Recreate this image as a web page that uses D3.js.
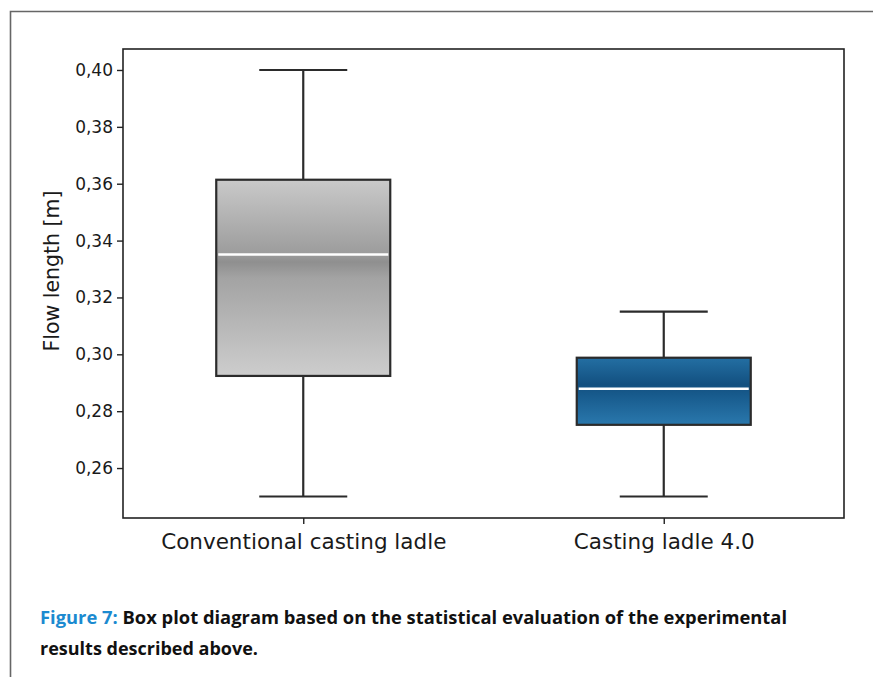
<!DOCTYPE html>
<html>
<head>
<meta charset="utf-8">
<script src="https://cdn.jsdelivr.net/npm/d3@7"></script>
<style>
body { margin: 0; background: #fff; }
</style>
</head>
<body>
<svg id="chart" width="873" height="677"></svg>
<script>
// box plot values
var groups = ["Conventional casting ladle", "Casting ladle 4.0"];
var whiskerLow = [0.25, 0.25];
var q1 = [0.2924, 0.2752];
var median = [0.3351, 0.2879];
var q3 = [0.3614, 0.2988];
var whiskerHigh = [0.40, 0.315];
var yTicks = [0.26, 0.28, 0.30, 0.32, 0.34, 0.36, 0.38, 0.40];

var plotFont = "'DejaVu Sans', Verdana, sans-serif";
var capFont = "'Open Sans', 'Noto Sans', sans-serif";

var svg = d3.select("#chart");

var margin = {left: 123, top: 49, right: 844, bottom: 518};

// outer frame of the figure page
svg.append("path")
  .attr("d", "M10.5,677 V11.5 H873")
  .attr("fill", "none")
  .attr("stroke", "#666")
  .attr("stroke-width", 1.6);

var y = d3.scaleLinear()
  .domain([0.24243, 0.40738])
  .range([margin.bottom, margin.top]);

var x = d3.scalePoint()
  .domain(groups)
  .range([margin.left, margin.right])
  .padding(0.5);

var defs = svg.append("defs");
var grads = [
  ["g0", [[0, "#c9c9c9"], [0.38, "#9c9c9c"], [0.42, "#8f8f8f"], [0.5, "#a3a3a3"], [1, "#cdcdcd"]]],
  ["g1", [[0, "#236fa3"], [0.4, "#135080"], [0.55, "#175a8c"], [1, "#2a78ad"]]]
];
grads.forEach(function(g) {
  var lg = defs.append("linearGradient").attr("id", g[0])
    .attr("x1", 0).attr("x2", 0).attr("y1", 0).attr("y2", 1);
  g[1].forEach(function(s) {
    lg.append("stop").attr("offset", s[0]).attr("stop-color", s[1]);
  });
});

var boxW = 174, capW = 88;

var box = svg.selectAll("g.box")
  .data(groups)
  .enter().append("g")
  .attr("class", "box");

box.append("line")
  .attr("x1", function(d) { return x(d); })
  .attr("x2", function(d) { return x(d); })
  .attr("y1", function(d, i) { return y(whiskerHigh[i]); })
  .attr("y2", function(d, i) { return y(q3[i]); })
  .attr("stroke", "#2b2b2b").attr("stroke-width", 2.2);

box.append("line")
  .attr("x1", function(d) { return x(d); })
  .attr("x2", function(d) { return x(d); })
  .attr("y1", function(d, i) { return y(q1[i]); })
  .attr("y2", function(d, i) { return y(whiskerLow[i]); })
  .attr("stroke", "#2b2b2b").attr("stroke-width", 2.2);

[whiskerHigh, whiskerLow].forEach(function(arr) {
  box.append("line")
    .attr("x1", function(d) { return x(d) - capW / 2; })
    .attr("x2", function(d) { return x(d) + capW / 2; })
    .attr("y1", function(d, i) { return y(arr[i]); })
    .attr("y2", function(d, i) { return y(arr[i]); })
    .attr("stroke", "#2b2b2b").attr("stroke-width", 2.2);
});

box.append("rect")
  .attr("x", function(d) { return x(d) - boxW / 2; })
  .attr("width", boxW)
  .attr("y", function(d, i) { return y(q3[i]); })
  .attr("height", function(d, i) { return y(q1[i]) - y(q3[i]); })
  .attr("fill", function(d, i) { return "url(#g" + i + ")"; })
  .attr("stroke", "#2b2b2b").attr("stroke-width", 2.2);

box.append("line")
  .attr("x1", function(d) { return x(d) - boxW / 2 + 2; })
  .attr("x2", function(d) { return x(d) + boxW / 2 - 2; })
  .attr("y1", function(d, i) { return y(median[i]); })
  .attr("y2", function(d, i) { return y(median[i]); })
  .attr("stroke", "#fff").attr("stroke-width", 2.6);

// axes
var fmt = function(v) { return d3.format(".2f")(v).replace(".", ","); };

var yAxis = svg.append("g")
  .attr("transform", "translate(" + margin.left + ",0)")
  .call(d3.axisLeft(y).tickValues(yTicks).tickFormat(fmt).tickSize(6).tickPadding(4));
yAxis.select(".domain").remove();
yAxis.selectAll("line").attr("stroke", "#222").attr("stroke-width", 1.4);
yAxis.selectAll("text")
  .style("font-family", plotFont).style("font-size", "17px").style("fill", "#1a1a1a");

var xAxis = svg.append("g")
  .attr("transform", "translate(0," + margin.bottom + ")")
  .call(d3.axisBottom(x).tickSize(6).tickPadding(10));
xAxis.select(".domain").remove();
xAxis.selectAll("line").attr("stroke", "#222").attr("stroke-width", 1.4);
xAxis.selectAll("text")
  .style("font-family", plotFont).style("font-size", "21.5px").style("fill", "#1a1a1a");

// plot frame
svg.append("rect")
  .attr("x", margin.left).attr("y", margin.top)
  .attr("width", margin.right - margin.left)
  .attr("height", margin.bottom - margin.top)
  .attr("fill", "none")
  .attr("stroke", "#222").attr("stroke-width", 1.6);

svg.append("text")
  .attr("transform", "translate(59,271) rotate(-90)")
  .attr("text-anchor", "middle")
  .style("font-family", plotFont)
  .style("font-size", "20.5px")
  .style("fill", "#1a1a1a")
  .text("Flow length [m]");

// caption
var cap1 = svg.append("text")
  .attr("x", 40).attr("y", 624)
  .attr("textLength", 747).attr("lengthAdjust", "spacingAndGlyphs")
  .style("font-family", capFont).style("font-weight", 700).style("font-size", "17px");
cap1.append("tspan").style("fill", "#1b8ad0").text("Figure 7: ");
cap1.append("tspan").style("fill", "#111").text("Box plot diagram based on the statistical evaluation of the experimental");

svg.append("text")
  .attr("x", 40).attr("y", 655)
  .attr("textLength", 218).attr("lengthAdjust", "spacingAndGlyphs")
  .style("font-family", capFont).style("font-weight", 700).style("font-size", "17px")
  .style("fill", "#111")
  .text("results described above.");
</script>
</body>
</html>
